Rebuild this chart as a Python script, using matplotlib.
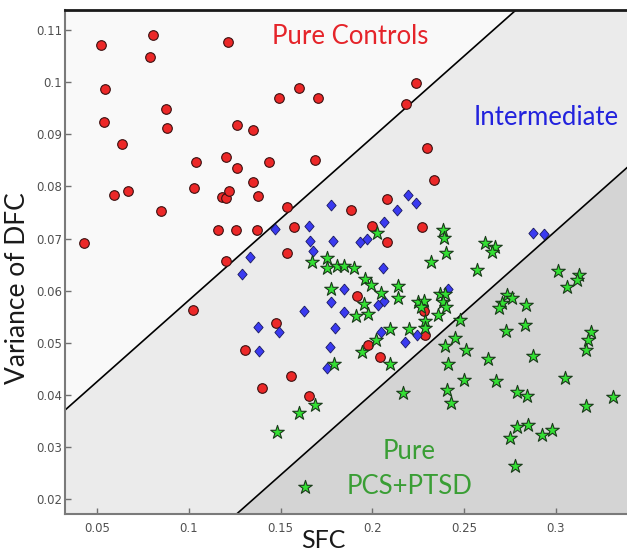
import matplotlib
matplotlib.use("Agg")
import matplotlib.pyplot as plt
import numpy as np

# ---- data ----
controls_sfc = [0.0429, 0.0519, 0.0544, 0.0538, 0.0635, 0.0589, 0.0666, 0.0787, 0.0804, 0.0875,
                0.0882, 0.0847, 0.1040, 0.1029, 0.1211, 0.1200, 0.1262, 0.1260, 0.1351, 0.1178,
                0.1202, 0.1218, 0.1351, 0.1375, 0.1438, 0.1156, 0.1255, 0.1371, 0.1200, 0.1534,
                0.1492, 0.1598, 0.1705, 0.1687, 0.1573, 0.1536, 0.2238, 0.2183, 0.2296, 0.2336,
                0.2078, 0.1883, 0.2272, 0.1996, 0.2078, 0.1476, 0.1304, 0.1558, 0.1398, 0.1653,
                0.1023, 0.1914, 0.2281, 0.2289, 0.1978, 0.2041]
controls_dfc = [0.0692, 0.1071, 0.0986, 0.0924, 0.0881, 0.0784, 0.0791, 0.1048, 0.1091, 0.0948,
                0.0912, 0.0752, 0.0847, 0.0797, 0.1077, 0.0857, 0.0836, 0.0917, 0.0908, 0.0780,
                0.0777, 0.0791, 0.0809, 0.0782, 0.0847, 0.0717, 0.0717, 0.0717, 0.0657, 0.0761,
                0.0969, 0.0988, 0.0969, 0.0851, 0.0722, 0.0673, 0.0999, 0.0959, 0.0873, 0.0812,
                0.0776, 0.0755, 0.0723, 0.0724, 0.0693, 0.0539, 0.0487, 0.0436, 0.0414, 0.0399,
                0.0564, 0.0589, 0.0562, 0.0516, 0.0495, 0.0472]

inter_sfc = [0.1471, 0.1653, 0.1660, 0.1678, 0.1334, 0.1289, 0.1774, 0.1787, 0.2196, 0.2236,
             0.2133, 0.2065, 0.1972, 0.1932, 0.2059, 0.2874, 0.2937, 0.1847, 0.1773, 0.1629,
             0.1847, 0.1376, 0.1489, 0.1796, 0.1380, 0.1769, 0.1751, 0.2032, 0.2065, 0.2414,
             0.2045, 0.2178, 0.2245]
inter_dfc = [0.0718, 0.0724, 0.0696, 0.0677, 0.0665, 0.0632, 0.0764, 0.0695, 0.0784, 0.0768,
             0.0754, 0.0731, 0.0700, 0.0693, 0.0643, 0.0710, 0.0708, 0.0604, 0.0579, 0.0562,
             0.0559, 0.0530, 0.0521, 0.0528, 0.0484, 0.0493, 0.0452, 0.0573, 0.0581, 0.0603,
             0.0520, 0.0502, 0.0516]

pcs_sfc = [0.1672, 0.1751, 0.1751, 0.1805, 0.1845, 0.1900, 0.1960, 0.2023, 0.2383, 0.2391,
           0.2401, 0.2318, 0.2569, 0.2614, 0.2668, 0.2650, 0.3010, 0.3128, 0.1991, 0.2045,
           0.2138, 0.2141, 0.1954, 0.1911, 0.1978, 0.2096, 0.2020, 0.1942, 0.2096, 0.2201,
           0.2247, 0.2283, 0.2265, 0.2287, 0.2287, 0.2369, 0.2396, 0.2387, 0.2401, 0.2359,
           0.2478, 0.2450, 0.2396, 0.2510, 0.2414, 0.2500, 0.2405, 0.2427, 0.2632, 0.2168,
           0.1772, 0.1685, 0.1601, 0.1478, 0.1634, 0.1793, 0.2732, 0.2760, 0.2705, 0.2692,
           0.2838, 0.2832, 0.2727, 0.2874, 0.2674, 0.2787, 0.2841, 0.3050, 0.3192, 0.3177,
           0.3165, 0.3165, 0.3313, 0.2787, 0.2850, 0.2750, 0.2923, 0.2978, 0.2777, 0.3060,
           0.3114]
pcs_dfc = [0.0655, 0.0663, 0.0643, 0.0647, 0.0647, 0.0643, 0.0623, 0.0710, 0.0717, 0.0701,
           0.0673, 0.0656, 0.0640, 0.0691, 0.0684, 0.0674, 0.0637, 0.0630, 0.0611, 0.0596,
           0.0609, 0.0587, 0.0574, 0.0552, 0.0555, 0.0526, 0.0506, 0.0483, 0.0459, 0.0526,
           0.0579, 0.0581, 0.0568, 0.0541, 0.0528, 0.0594, 0.0594, 0.0579, 0.0569, 0.0553,
           0.0544, 0.0509, 0.0494, 0.0486, 0.0459, 0.0429, 0.0410, 0.0385, 0.0469, 0.0403,
           0.0604, 0.0381, 0.0365, 0.0329, 0.0223, 0.0460, 0.0592, 0.0587, 0.0576, 0.0566,
           0.0573, 0.0534, 0.0523, 0.0475, 0.0427, 0.0406, 0.0398, 0.0432, 0.0521, 0.0506,
           0.0486, 0.0378, 0.0396, 0.0339, 0.0343, 0.0317, 0.0323, 0.0332, 0.0263, 0.0608,
           0.0621]

# boundary lines: DFC = intercept + slope * SFC
slope = 0.312
upper_intercept = 0.0270
lower_intercept = -0.02213

x_ticks = [0.05, 0.1, 0.15, 0.2, 0.25, 0.3]
x_tick_labels = ["0.05", "0.1", "0.15", "0.2", "0.25", "0.3"]
y_ticks = [0.02, 0.03, 0.04, 0.05, 0.06, 0.07, 0.08, 0.09, 0.1, 0.11]
y_tick_labels = ["0.02", "0.03", "0.04", "0.05", "0.06", "0.07", "0.08", "0.09", "0.1", "0.11"]

# ---- figure ----
fig = plt.figure(figsize=(6.27, 5.54), dpi=100)
ax = fig.add_axes([65 / 627, 40 / 554, 562 / 627, 504 / 554])
xlim = (0.03238, 0.33889)
ylim = (0.01718, 0.11384)
ax.set_xlim(*xlim)
ax.set_ylim(*ylim)

xs = np.linspace(xlim[0], xlim[1], 200)
up = upper_intercept + slope * xs
lo = lower_intercept + slope * xs
ax.fill_between(xs, up, ylim[1], color="#f9f9f9", zorder=0, lw=0)
ax.fill_between(xs, lo, up, color="#ebebeb", zorder=0, lw=0)
ax.fill_between(xs, ylim[0], lo, color="#d4d4d4", zorder=0, lw=0)
ax.plot(xs, up, color="black", lw=1.2, zorder=1)
ax.plot(xs, lo, color="black", lw=1.2, zorder=1)

ax.scatter(controls_sfc, controls_dfc, s=48, marker="o", facecolor="#ec2828",
           edgecolor="#3a1010", linewidths=0.8, zorder=3)
diamond = [(0, 1), (0.85, 0), (0, -1), (-0.85, 0), (0, 1)]
ax.scatter(inter_sfc, inter_dfc, s=62, marker=diamond, facecolor="#3a3af0",
           edgecolor="#1a1a60", linewidths=0.6, zorder=4)
ax.scatter(pcs_sfc, pcs_dfc, s=105, marker="*", facecolor="#33e033",
           edgecolor="#1a3a1a", linewidths=0.8, zorder=5)

# region labels
font_region = ["Lato", "DejaVu Sans"]
ax.text(0.1878, 0.1087, "Pure Controls", color="#e5242a", fontsize=18.5,
        family=font_region, ha="center", va="center")
ax.text(0.2947, 0.0933, "Intermediate", color="#2222dd", fontsize=18.5,
        family=font_region, ha="center", va="center")
ax.text(0.2200, 0.0291, "Pure", color="#3a9e35", fontsize=18.5,
        family=font_region, ha="center", va="center")
ax.text(0.2205, 0.0224, "PCS+PTSD", color="#3a9e35", fontsize=18.5,
        family=font_region, ha="center", va="center")

# axes styling
ax.set_xticks(x_ticks)
ax.set_xticklabels(x_tick_labels)
ax.set_yticks(y_ticks)
ax.set_yticklabels(y_tick_labels)
ax.tick_params(direction="in", length=4.5, width=1, colors="#707070",
               labelcolor="#505050", labelsize=8.5)
ax.tick_params(axis="y", pad=2)
ax.tick_params(axis="x", pad=6)
ax.spines["right"].set_visible(False)
ax.spines["top"].set_color("#1a1a1a")
ax.spines["top"].set_linewidth(2)
ax.spines["left"].set_color("#7a7a7a")
ax.spines["left"].set_linewidth(1.5)
ax.spines["bottom"].set_color("#7a7a7a")
ax.spines["bottom"].set_linewidth(1.5)

ax.set_xlabel("SFC", fontsize=18, family=font_region, color="#1a1a1a")
ax.xaxis.set_label_coords((323 - 65) / 562, -26 / 504, transform=ax.transAxes)
ax.xaxis.label.set_va("center")
ax.set_ylabel("Variance of DFC", fontsize=19, family=font_region, color="#1a1a1a")
ax.yaxis.set_label_coords(-(65 - 18) / 562, (514 - 288) / 504, transform=ax.transAxes)
ax.yaxis.label.set_va("center")

fig.savefig("out.png", dpi=100)
